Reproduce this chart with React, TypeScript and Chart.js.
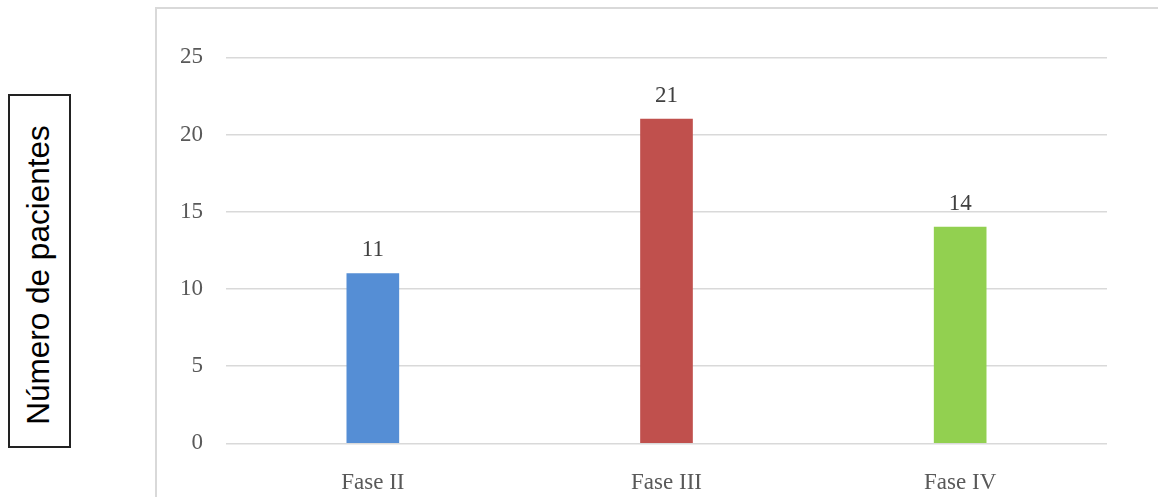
import React, { useEffect, useRef } from "react";
import { Chart, registerables } from "chart.js";

Chart.register(...registerables);

const categories = ["Fase II", "Fase III", "Fase IV"];
const pacientes = [11, 21, 14];
const barColors = ["#558ED5", "#C0504D", "#92D050"];
const yTicks = [0, 5, 10, 15, 20, 25];
const yTitle = "Número de pacientes";

const SERIF = "'Liberation Serif', 'DejaVu Serif', serif";

const valueLabels = {
  id: "valueLabels",
  afterDatasetsDraw(chart: any) {
    const ctx = chart.ctx;
    const meta = chart.getDatasetMeta(0);
    ctx.save();
    ctx.font = `23px ${SERIF}`;
    ctx.fillStyle = "#404040";
    ctx.textAlign = "center";
    ctx.textBaseline = "alphabetic";
    meta.data.forEach((bar: any, i: number) => {
      ctx.fillText(String(chart.data.datasets[0].data[i]), bar.x, bar.y - 17);
    });
    ctx.restore();
  },
};

export default function App() {
  const ref = useRef<HTMLCanvasElement>(null);

  useEffect(() => {
    if (!ref.current) return;
    const chart = new Chart(ref.current, {
      type: "bar",
      data: {
        labels: categories,
        datasets: [
          {
            data: pacientes,
            backgroundColor: barColors,
            barThickness: 52,
          },
        ],
      },
      options: {
        animation: false,
        responsive: false,
        maintainAspectRatio: false,
        layout: { padding: { left: 0, right: 51, top: 48.3, bottom: 0 } },
        plugins: {
          legend: { display: false },
          tooltip: { enabled: false },
        },
        scales: {
          x: {
            grid: { display: false },
            border: { display: false },
            ticks: {
              color: "#595959",
              font: { family: SERIF, size: 23 },
              padding: 18,
            },
            afterFit(scale: any) {
              scale.height = 53.7;
            },
          },
          y: {
            min: 0,
            max: 25,
            afterBuildTicks(scale: any) {
              scale.ticks = yTicks.map((v) => ({ value: v }));
            },
            grid: { color: "#d9d9d9", lineWidth: 1.5, drawTicks: false },
            border: { display: false },
            ticks: {
              color: "#595959",
              font: { family: SERIF, size: 23 },
              padding: 23,
            },
            afterFit(scale: any) {
              scale.width = 69;
            },
          },
        },
      },
      plugins: [valueLabels],
    });
    return () => chart.destroy();
  }, []);

  return (
    <div
      style={{
        position: "absolute",
        left: 0,
        top: 0,
        width: 1158,
        height: 497,
        overflow: "hidden",
        background: "#fff",
      }}
    >
      <div
        style={{
          position: "absolute",
          left: 155,
          top: 7,
          width: 1100,
          height: 600,
          borderLeft: "2px solid #d9d9d9",
          borderTop: "2px solid #d9d9d9",
        }}
      />
      <canvas
        ref={ref}
        width={1001}
        height={488}
        style={{ position: "absolute", left: 157, top: 9, width: 1001, height: 488 }}
      />
      <div
        style={{
          position: "absolute",
          left: 8,
          top: 94,
          width: 63,
          height: 354,
          boxSizing: "border-box",
          border: "2px solid #222",
        }}
      />
      <span
        style={{
          position: "absolute",
          left: 39,
          top: 275,
          transform: "translate(-50%, -50%) rotate(-90deg)",
          whiteSpace: "nowrap",
          fontFamily: "'Liberation Sans', Arial, sans-serif",
          fontSize: 31.5,
          color: "#000",
          lineHeight: 1,
        }}
      >
        {yTitle}
      </span>
    </div>
  );
}
